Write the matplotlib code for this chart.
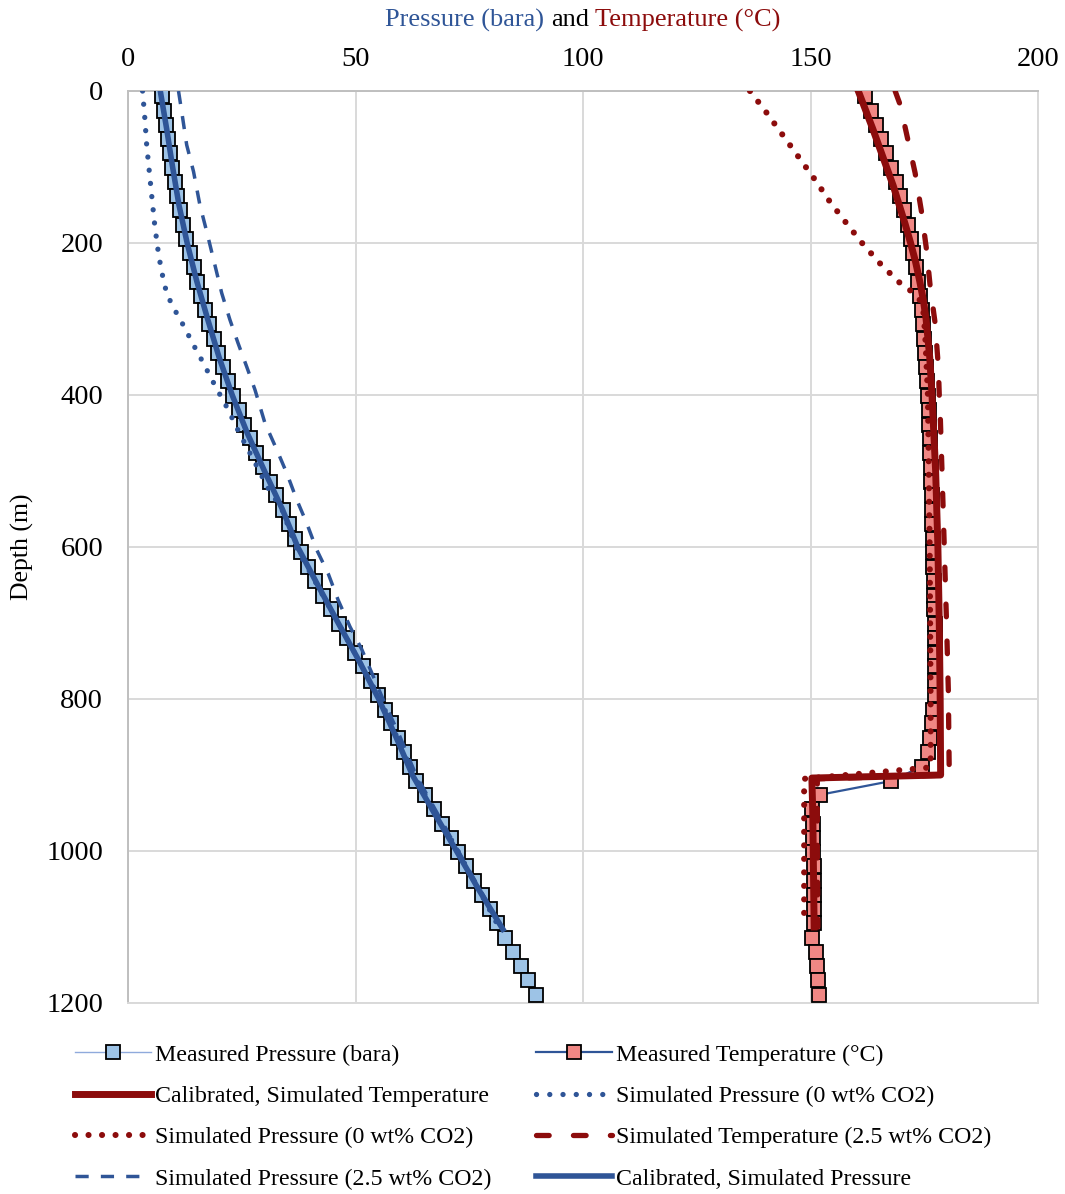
import matplotlib
matplotlib.use("Agg")
import matplotlib.pyplot as plt

plt.rcParams['font.family'] = ['Liberation Serif', 'DejaVu Serif']

BLUE = '#2F5597'
RED = '#8C0C0C'
LIGHT_BLUE = '#9DC3E6'
PINK = '#F08784'

# measured survey depths (m)
meas_depth = [7, 26, 45, 63, 82, 101, 120, 138, 157, 176, 195, 213, 232, 251, 270, 288,
              307, 326, 345, 363, 382, 401, 420, 439, 457, 476, 495, 514, 532, 551, 570, 589,
              607, 626, 645, 664, 682, 701, 720, 739, 757, 776, 795, 814, 832, 851, 870, 889,
              908, 926, 945, 964, 983, 1001, 1020, 1039, 1058, 1076, 1095, 1114, 1133, 1151,
              1170, 1189]
meas_pressure = [7.5, 7.9, 8.4, 8.8, 9.2, 9.7, 10.3, 10.8, 11.4, 12.1, 12.8, 13.6, 14.4, 15.2,
                 16.1, 17.0, 17.9, 18.8, 19.8, 20.8, 21.9, 23.1, 24.3, 25.5, 26.8, 28.2, 29.7,
                 31.2, 32.6, 34.0, 35.3, 36.6, 38.0, 39.6, 41.2, 42.9, 44.6, 46.3, 48.1, 49.8,
                 51.6, 53.3, 55.0, 56.5, 57.9, 59.3, 60.7, 62.0, 63.4, 65.3, 67.2, 69.1, 70.9,
                 72.6, 74.3, 76.0, 77.7, 79.5, 81.2, 82.9, 84.7, 86.3, 88.0, 89.6]
meas_temp = [162.0, 163.3, 164.4, 165.5, 166.6, 167.7, 168.8, 169.6, 170.6, 171.4, 172.1,
             172.6, 173.2, 173.7, 174.1, 174.4, 174.7, 175.0, 175.2, 175.4, 175.7, 175.9,
             176.0, 176.1, 176.2, 176.3, 176.4, 176.5, 176.6, 176.7, 176.8, 176.9, 177.0,
             177.0, 177.1, 177.2, 177.2, 177.3, 177.3, 177.4, 177.4, 177.4, 177.3, 176.9,
             176.6, 176.3, 175.9, 174.4, 167.7, 152.1, 150.3, 150.5, 150.6, 150.6, 150.7,
             150.7, 150.7, 150.7, 150.7, 150.4, 151.2, 151.4, 151.6, 151.9]

# calibrated, simulated temperature
cal_t_depth = [0, 25, 50, 75, 100, 125, 150, 175, 200, 225, 250, 275, 300, 325, 350, 400,
               450, 500, 600, 700, 800, 900, 904, 950, 1000, 1050, 1100]
cal_t = [160.5, 162.1, 163.7, 165.2, 166.7, 168.2, 169.5, 170.8, 172.0, 173.1, 174.0, 174.8,
         175.4, 175.8, 176.2, 176.7, 177.1, 177.5, 178.0, 178.3, 178.5, 178.6, 150.3, 150.5,
         150.6, 150.7, 150.8]

# simulated temperature, 2.5 wt% CO2
sim_t25_depth = [0, 18, 56, 108, 159, 209, 257, 306, 363, 400, 424, 500, 600, 700, 790,
                 850, 900, 905, 1000, 1100]
sim_t25 = [168.6, 169.7, 171.1, 173.0, 174.4, 175.5, 176.3, 177.4, 178.1, 178.3, 178.5,
           178.9, 179.4, 179.9, 180.3, 180.4, 180.5, 151.5, 151.5, 151.6]

# simulated (temperature) 0 wt% CO2 - labelled "Pressure" in the original legend
sim_t0_depth = [0, 29, 58, 87, 116, 146, 174, 202, 229, 254, 264, 275, 290, 320, 400, 500,
                600, 700, 800, 890, 905, 1000, 1093]
sim_t0 = [136.7, 140.4, 143.9, 147.4, 150.9, 154.3, 157.9, 161.6, 165.6, 169.9, 172.3, 174.0,
          174.8, 175.2, 175.8, 176.0, 176.2, 176.3, 176.4, 176.4, 148.6, 148.6, 148.6]

# simulated pressure, 0 wt% CO2
sim_p0_depth = [0, 36, 71, 107, 143, 178, 214, 231, 249, 266, 283, 299, 314, 330, 346, 362,
                377, 393, 409, 424, 441, 456, 472, 489, 504, 520, 550, 600, 700, 800, 900,
                1000, 1100]
sim_p0 = [3.2, 3.7, 4.1, 4.7, 5.3, 5.9, 6.7, 7.2, 7.8, 8.5, 9.8, 11.3, 12.7, 14.0, 15.5, 16.9,
          18.2, 19.6, 21.1, 22.4, 23.7, 25.0, 26.4, 27.9, 29.2, 30.5, 33.8, 36.9, 46.2, 55.4,
          62.8, 72.5, 81.5]

# simulated pressure, 2.5 wt% CO2
sim_p25_depth = [0, 27, 71, 106, 150, 185, 229, 266, 301, 332, 363, 393, 437, 472, 503, 538,
                 569, 604, 635, 670, 705, 735, 766, 801, 850, 900, 1000, 1100]
sim_p25 = [11.1, 11.8, 12.9, 14.4, 15.8, 17.3, 19.1, 20.6, 22.4, 24.2, 26.1, 27.9, 30.1, 32.7,
           34.9, 37.1, 39.3, 41.5, 44.0, 46.2, 48.8, 51.4, 53.6, 56.1, 59.8, 63.3, 72.6, 82.0]

# calibrated, simulated pressure
cal_p_depth = [0, 50, 100, 150, 200, 250, 300, 350, 400, 450, 500, 550, 600, 650, 700, 750,
               800, 850, 900, 950, 1000, 1050, 1103]
cal_p = [7.1, 8.5, 9.8, 11.2, 13.0, 15.1, 17.5, 20.0, 22.9, 26.2, 30.0, 33.9, 37.3, 41.7,
         46.2, 50.8, 55.1, 58.9, 62.5, 67.3, 72.2, 77.0, 82.4]

fig = plt.figure(figsize=(10.65, 11.94), dpi=100)
ax = fig.add_axes([128 / 1065, 1 - 1003 / 1194, 910 / 1065, 912 / 1194])

h_mp, = ax.plot(meas_pressure, meas_depth, color='#8FAADC', lw=1.0, marker='s', ms=9.8,
                mfc=LIGHT_BLUE, mec='black', mew=1.3, zorder=3)
h_mt, = ax.plot(meas_temp, meas_depth, color=BLUE, lw=1.6, marker='s', ms=9.8,
                mfc=PINK, mec='black', mew=1.3, zorder=3)
h_ct, = ax.plot(cal_t, cal_t_depth, color=RED, lw=5.0, zorder=4)
h_p0, = ax.plot(sim_p0, sim_p0_depth, color=BLUE, lw=3.8, ls=(0, (0.01, 2.5)),
                dash_capstyle='round', zorder=5)
h_t0, = ax.plot(sim_t0, sim_t0_depth, color=RED, lw=4.4, ls=(0, (0.01, 2.2)),
                dash_capstyle='round', zorder=5)
h_t25, = ax.plot(sim_t25, sim_t25_depth, color=RED, lw=3.8, ls=(0, (2.4, 4.6)),
                 dash_capstyle='round', zorder=5)
h_p25, = ax.plot(sim_p25, sim_p25_depth, color=BLUE, lw=2.5, ls=(0, (3.8, 3.5)), zorder=5)
h_cp, = ax.plot(cal_p, cal_p_depth, color=BLUE, lw=4.0, zorder=6)

ax.set_xlim(0, 200)
ax.set_ylim(1200, 0)
ax.set_xticks([0, 50, 100, 150, 200])
ax.set_yticks([0, 200, 400, 600, 800, 1000, 1200])
ax.xaxis.tick_top()
ax.tick_params(axis='x', length=0, labelsize=20.5, pad=14)
ax.tick_params(axis='y', length=0, labelsize=20.5, pad=18)
ax.grid(color='#D9D9D9', lw=1.4, zorder=0)
ax.set_axisbelow(True)
for side in ['left', 'top']:
    ax.spines[side].set_color('#BFBFBF')
    ax.spines[side].set_linewidth(1.4)
for side in ['right', 'bottom']:
    ax.spines[side].set_color('#D9D9D9')
    ax.spines[side].set_linewidth(1.4)

ax.set_ylabel('Depth (m)', fontsize=18.5)
ax.yaxis.set_label_coords(-94 / 910, 0.5)

# title in three colours
fig.canvas.draw()
r = fig.canvas.get_renderer()
full = 'Pressure (bara) and Temperature (°C)'
tsize = 19


def text_w(s):
    t = fig.text(0, 0, s, fontsize=tsize)
    w = t.get_window_extent(r).width
    t.remove()
    return w


W = text_w(full)
x0 = (583 - W / 2)
x_and = x0 + text_w('Pressure (bara) and') - text_w('and')
x_tmp = x0 + W - text_w('Temperature (°C)')
ty = 1 - 20 / 1194
fig.text(x0 / 1065, ty, 'Pressure (bara)', color=BLUE, fontsize=tsize, va='center')
fig.text(x_and / 1065, ty, 'and', color='black', fontsize=tsize, va='center')
fig.text(x_tmp / 1065, ty, 'Temperature (°C)', color=RED, fontsize=tsize, va='center')

# legend, two columns filled column-wise
handles = [h_mp, h_ct, h_t0, h_p25, h_mt, h_p0, h_t25, h_cp]
labels = ['Measured Pressure (bara)', 'Calibrated, Simulated Temperature',
          'Simulated Pressure (0 wt% CO2)', 'Simulated Pressure (2.5 wt% CO2)',
          'Measured Temperature (°C)', 'Simulated Pressure (0 wt% CO2)',
          'Simulated Temperature (2.5 wt% CO2)', 'Calibrated, Simulated Pressure']
fig.legend(handles, labels, ncol=2, loc='upper left',
           bbox_to_anchor=(75 / 1065, 1 - 1044 / 1194), frameon=False, fontsize=17.2,
           handlelength=3.2, handletextpad=0.15, columnspacing=1.85, labelspacing=0.82,
           borderpad=0, borderaxespad=0)

fig.savefig('out.png', dpi=100)
